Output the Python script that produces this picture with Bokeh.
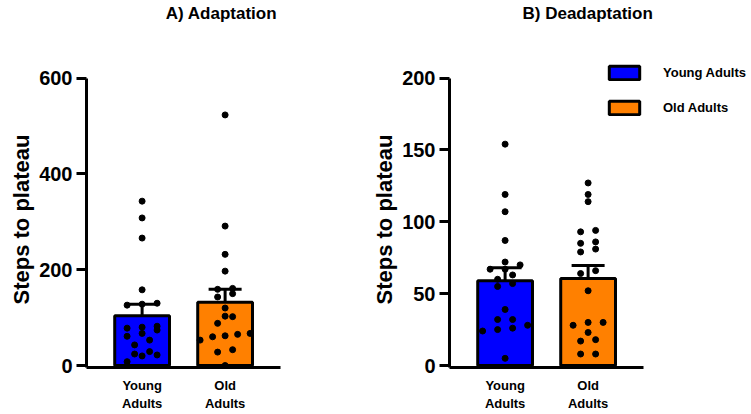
from bokeh.plotting import figure
from bokeh.models import (ColumnDataSource, FixedTicker, LinearAxis, Range1d, Whisker,
                          TeeHead, Legend, LegendItem, Title)
from bokeh.layouts import row
from bokeh.embed import file_html
from bokeh.resources import INLINE

# ---------------- data ----------------
categories = ["Young Adults", "Old Adults"]
bar_colors = ["#0000ff", "#ff8000"]
positions = [1, 2]
y_label = "Steps to plateau"

adapt_young = [343, 308, 266, 158, 130, 128, 126, 82, 80, 78, 74, 67, 61, 53, 43, 29, 24, 22, 20, 8]
adapt_old = [523, 291, 232, 197, 161, 159, 150, 143, 120, 103, 102, 88, 67, 65, 62, 60, 53, 33, 28, 0]
adapt_mean = [104, 132]
adapt_sem = [24, 27]
adapt_ticks = [0, 200, 400, 600]

deadapt_young = [154, 119, 107, 87, 72, 70, 67, 67, 63, 60, 57, 55, 39, 32, 32, 28, 26, 25, 24, 5]
deadapt_old = [127, 119, 114, 94, 93, 86, 85, 81, 79, 66, 64, 52, 30, 30, 28, 23, 18, 17, 8, 8]
deadapt_mean = [59, 60.5]
deadapt_sem = [9, 9]
deadapt_ticks = [0, 50, 100, 150, 200]

FONT = "Liberation Sans"
H = 413
BORDER_TOP = 22
BORDER_BOTTOM = 45
FRAME_H = H - BORDER_TOP - BORDER_BOTTOM
PAD_BOTTOM = 2       # px between value 0 and frame bottom
AXIS_PX = 290.0      # px from value 0 to the top tick
PX_X = 83.0          # px per category unit
X0 = 0.33


def scatter_offsets(values, center, px_x, px_y, bin_px=7.0, step_px=15.0, max_spread=50.0):
    """GraphPad-like column scatter: points in the same vertical bin are spread horizontally."""
    order = sorted(range(len(values)), key=lambda i: values[i])
    bins = []
    for i in order:
        if bins and (values[i] - values[bins[-1][0]]) * px_y < bin_px:
            bins[-1].append(i)
        else:
            bins.append([i])
    xs = [0.0] * len(values)
    for b in bins:
        n = len(b)
        step = step_px if n <= 1 else min(step_px, max_spread / (n - 1))
        for k, i in enumerate(b):
            xs[i] = center + ((k - (n - 1) / 2.0) * step) / px_x
    return xs


def make_panel(title, groups, means, sems, ticks, width, border_left, border_right,
               title_align, title_offset, legend=False):
    ymax = ticks[-1]
    frame_w = width - border_left - border_right
    px_y = AXIS_PX / ymax
    y0 = -PAD_BOTTOM / px_y
    y1 = ymax + (FRAME_H - PAD_BOTTOM - AXIS_PX) / px_y
    x1 = X0 + frame_w / PX_X

    p = figure(width=width, height=H, x_range=Range1d(X0, x1), y_range=Range1d(y0, y1),
               output_backend="svg", toolbar_location=None,
               x_axis_type=None, y_axis_type=None,
               min_border_left=border_left, min_border_right=border_right,
               min_border_top=BORDER_TOP, min_border_bottom=BORDER_BOTTOM,
               title=Title(text=title, align=title_align, text_font=FONT, text_font_size="17px",
                           text_font_style="bold", text_color="black",
                           standoff=3, offset=title_offset))
    p.outline_line_color = None
    p.xgrid.visible = False
    p.ygrid.visible = False

    yaxis = LinearAxis(ticker=FixedTicker(ticks=ticks), bounds=(y0, ymax),
                       axis_line_width=3, axis_line_color="black",
                       major_tick_line_width=3, major_tick_line_color="black",
                       major_tick_out=10, major_tick_in=0, minor_tick_out=0, minor_tick_in=0,
                       major_label_text_font=FONT, major_label_text_font_size="20px",
                       major_label_text_font_style="bold", major_label_text_color="black",
                       major_label_standoff=4)
    p.add_layout(yaxis, "left")
    # axis title, placed along the drawn axis (starts 63px above the frame bottom)
    p.add_layout(Title(text=y_label, align="left", text_font=FONT, text_font_size="22px",
                       text_font_style="bold", text_color="black", standoff=6,
                       offset=63), "left")

    overrides = {pos: cat.replace(" ", "\n") for pos, cat in zip(positions, categories)}
    xaxis = LinearAxis(ticker=FixedTicker(ticks=positions),
                       bounds=(X0, positions[-1] + (positions[0] - X0)),
                       major_label_overrides=overrides,
                       axis_line_width=3, axis_line_color="black",
                       major_tick_out=0, major_tick_in=0,
                       minor_tick_out=0, minor_tick_in=0,
                       major_label_text_font=FONT, major_label_text_font_size="13px",
                       major_label_text_font_style="bold", major_label_text_color="black",
                       major_label_standoff=10)
    p.add_layout(xaxis, "below")

    src = ColumnDataSource(dict(
        x=positions, top=means, color=bar_colors, label=categories,
        upper=[m + s for m, s in zip(means, sems)],
        lower=[m - s for m, s in zip(means, sems)],
    ))
    bars = p.vbar(x="x", top="top", bottom=0, width=0.66, fill_color="color",
                  line_color="black", line_width=3, source=src)

    for pos, vals in zip(positions, groups):
        xs = scatter_offsets(vals, pos, PX_X, px_y)
        p.scatter(xs, vals, size=6, color="black")

    p.add_layout(Whisker(source=src, base="x", upper="upper", lower="lower",
                         line_width=3, line_color="black",
                         upper_head=TeeHead(size=33, line_width=3, line_color="black"),
                         lower_head=TeeHead(size=33, line_width=3, line_color="black")))

    if legend:
        items = [LegendItem(label=cat, renderers=[bars], index=i) for i, cat in enumerate(categories)]
        leg = Legend(items=items, location=(156, 251), glyph_width=38, glyph_height=17,
                     label_height=17, label_standoff=20, spacing=18, padding=0, margin=0,
                     border_line_alpha=0, background_fill_alpha=0,
                     label_text_font=FONT, label_text_font_size="13px",
                     label_text_font_style="bold", label_text_color="black")
        p.add_layout(leg)
    return p


pA = make_panel("A) Adaptation", [adapt_young, adapt_old], adapt_mean, adapt_sem,
                adapt_ticks, 366, 86, 10, "center", 0)
pB = make_panel("B) Deadaptation", [deadapt_young, deadapt_old], deadapt_mean, deadapt_sem,
                deadapt_ticks, 384, 83, 0, "left", 73, legend=True)

layout = row(pA, pB)
open("out.html", "w").write(file_html(layout, INLINE))
